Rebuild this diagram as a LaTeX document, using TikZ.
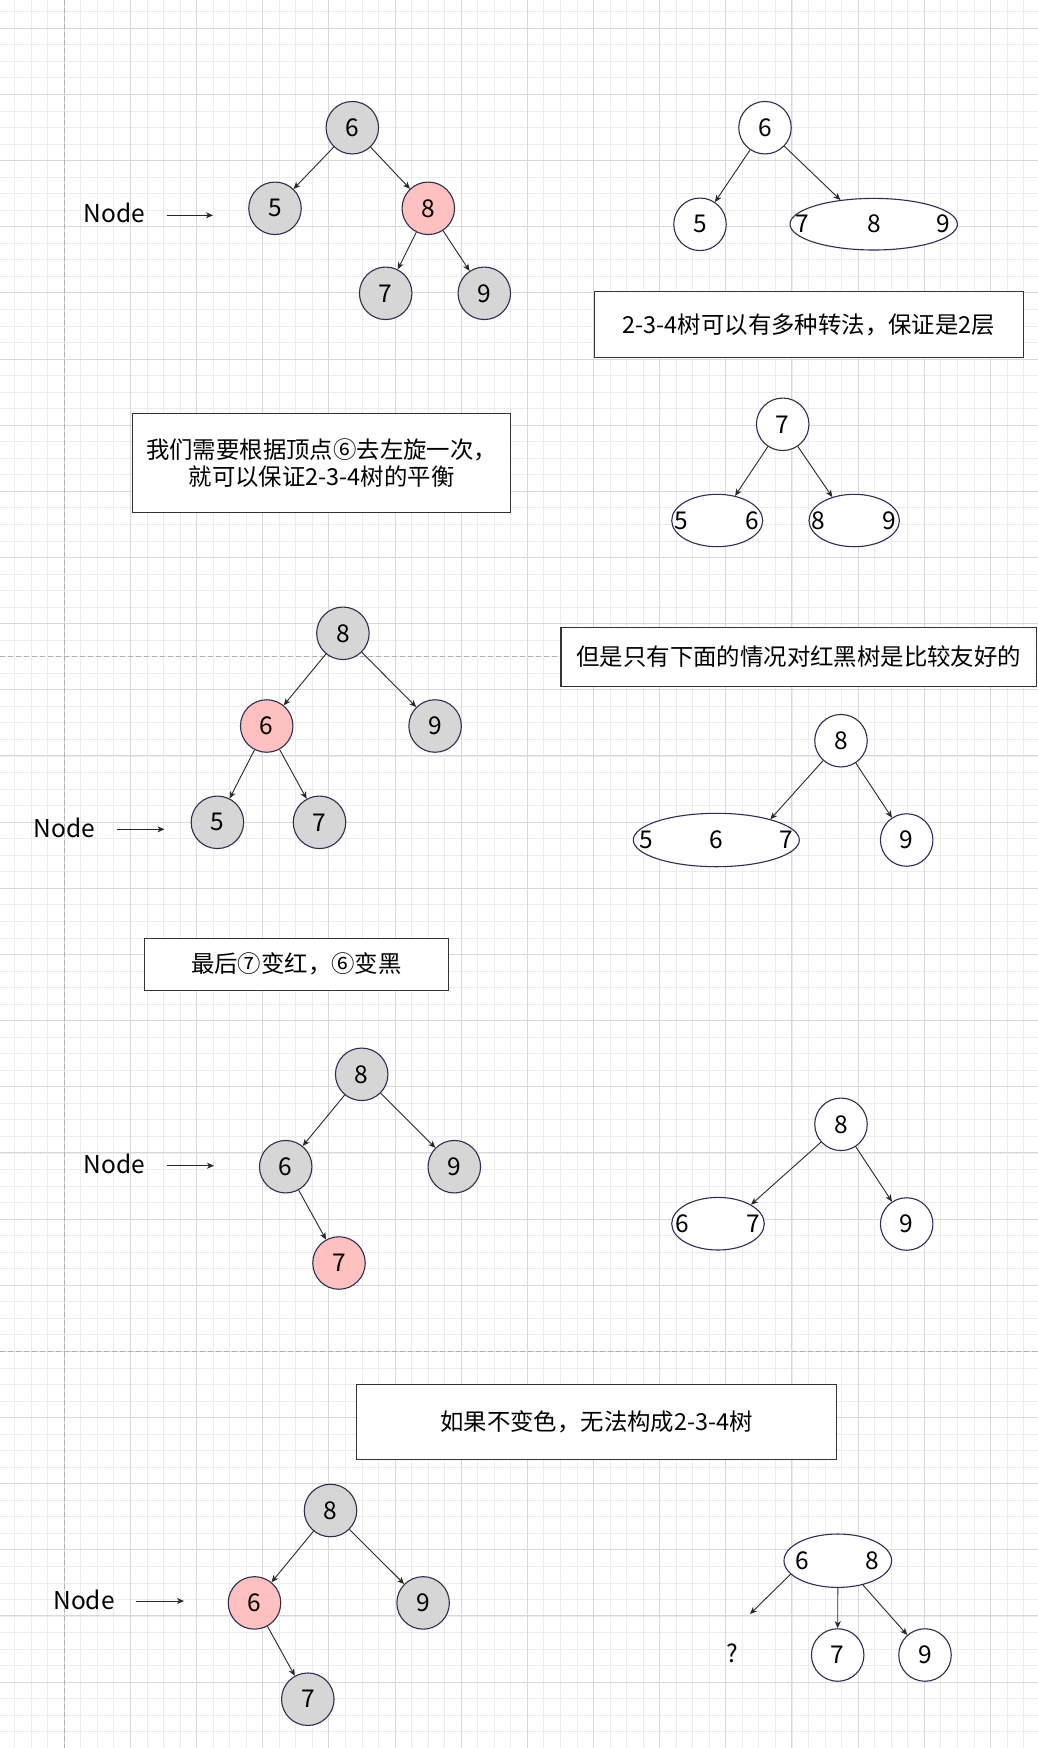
\documentclass[tikz,border=0pt]{standalone}
\usepackage{fontspec}
\setmainfont{Noto Sans CJK SC}
\usetikzlibrary{shapes.geometric,arrows.meta}

\definecolor{gridminor}{RGB}{236,236,236}
\definecolor{gridmajor}{RGB}{216,216,216}
\definecolor{pagebreak}{RGB}{176,176,176}
\definecolor{nodeline}{RGB}{44,46,82}
\definecolor{blackfill}{RGB}{214,214,214}
\definecolor{redfill}{RGB}{255,192,192}
\definecolor{edgecol}{RGB}{40,40,40}
\definecolor{boxline}{RGB}{51,51,51}

\newcommand\dgfont{\fontsize{24.5pt}{28pt}\selectfont}
\newcommand\txtfont{\fontsize{23.4pt}{26.7pt}\selectfont}

\tikzset{
  wnode/.style={circle, draw=nodeline, line width=1.1pt, fill=white,
    minimum size=52.5pt, inner sep=0pt, font=\dgfont},
  bnode/.style={wnode, fill=blackfill},
  rnode/.style={wnode, fill=redfill},
  groupnode/.style={ellipse, draw=nodeline, line width=1.1pt, fill=white,
    inner sep=0pt},
  digit/.style={inner sep=0pt, font=\dgfont},
  link/.style={draw=edgecol, line width=0.9pt,
    -{Stealth[length=7pt,width=6pt,inset=2pt]}},
  tbox/.style={draw=boxline, line width=1.1pt, fill=white, inner sep=0pt,
    font=\txtfont, align=center},
  lbl/.style={inner sep=0pt, font=\dgfont},
}

\begin{document}
\begin{tikzpicture}[x=1pt,y=-1pt]
\useasboundingbox (0,0) rectangle (1038,1748);
\fill[white] (0,0) rectangle (1038,1748);

% background grid
\begin{scope}
  \clip (0,0) rectangle (1038,1748);
  \foreach \i in {-4,...,59}
    \draw[gridminor, line width=1pt] ({64.3+16.54*\i},0) -- ({64.3+16.54*\i},1748);
  \foreach \j in {-2,...,104}
    \draw[gridminor, line width=1pt] (0,{28.3+16.54*\j}) -- (1038,{28.3+16.54*\j});
  \foreach \i in {-1,...,15}
    \draw[gridmajor, line width=1pt] ({64.3+66.15*\i},0) -- ({64.3+66.15*\i},1748);
  \foreach \j in {-1,...,26}
    \draw[gridmajor, line width=1pt] (0,{28.3+66.15*\j}) -- (1038,{28.3+66.15*\j});
  % page breaks
  \draw[pagebreak, line width=1pt, dash pattern=on 5pt off 3pt] (64.3,0) -- (64.3,1748);
  \draw[pagebreak, line width=1pt, dash pattern=on 5pt off 3pt] (0,656) -- (1038,656);
  \draw[pagebreak, line width=1pt, dash pattern=on 5pt off 3pt] (0,1351.7) -- (1038,1351.7);
\end{scope}

% ---------- first tree (left) ----------
\node[bnode] (a6) at (352.3,127.7) {6};
\node[bnode] (a5) at (275,208.3) {5};
\node[rnode] (a8) at (428.3,208.3) {8};
\node[bnode] (a7) at (385.7,293.3) {7};
\node[bnode] (a9) at (484.3,293.3) {9};
\draw[link] (a6) -- (a5);
\draw[link] (a6) -- (a8);
\draw[link] (a8) -- (a7);
\draw[link] (a8) -- (a9);
\node[lbl] (la) at (114.5,213) {Node};
\coordinate (la1) at (167,215.3);
\coordinate (la2) at (213,215.3);
\draw[link] (la1) -- (la2);

% ---------- first 2-3-4 tree (right) ----------
\node[wnode] (b6) at (765,127.7) {6};
\node[wnode] (b5) at (700,224.3) {5};
\node[groupnode, minimum width=167.4pt, minimum height=51.6pt] (b789) at (873.7,224.2) {};
\node[digit] at (802.3,224.2) {7};
\node[digit] at (874,224.2) {8};
\node[digit] at (943.3,224.2) {9};
\draw[link] (b6) -- (b5);
\draw[link] (b6) -- (b789.144);

\node[tbox, minimum width=429pt, minimum height=65.6pt] (t1) at (808.8,324.5)
  {2-3-4树可以有多种转法，保证是2层};

\node[tbox, minimum width=378.4pt, minimum height=99.4pt] (t2) at (321.5,463)
  {我们需要根据顶点⑥去左旋一次，\\就可以保证2-3-4树的平衡};

% ---------- second 2-3-4 tree (right) ----------
\node[wnode] (c7) at (782.7,424.3) {7};
\node[groupnode, minimum width=91pt, minimum height=52.4pt] (c56) at (717.2,520.5) {};
\node[groupnode, minimum width=90.4pt, minimum height=52.4pt] (c89) at (854.2,520.5) {};
\node[digit] at (681.7,520.5) {5};
\node[digit] at (752.3,520.5) {6};
\node[digit] at (818.3,520.5) {8};
\node[digit] at (889,520.5) {9};
\draw[link] (c7) -- (c56.54);
\draw[link] (c7) -- (c89.133);

% ---------- after rotation (left) ----------
\node[bnode] (d8) at (342.9,633.3) {8};
\node[rnode] (d6) at (266.7,726) {6};
\node[bnode] (d9) at (435.1,726) {9};
\node[bnode] (d5) at (217.4,822.3) {5};
\node[bnode] (d7) at (319.5,822.3) {7};
\draw[link] (d8) -- (d6);
\draw[link] (d8) -- (d9);
\draw[link] (d6) -- (d5);
\draw[link] (d6) -- (d7);
\node[lbl] (ld) at (64.6,827.7) {Node};
\coordinate (ld1) at (116.7,829.3);
\coordinate (ld2) at (164.5,829.3);
\draw[link] (ld1) -- (ld2);

\node[tbox, minimum width=475.7pt, minimum height=58.7pt] (t3) at (798.8,656.7)
  {但是只有下面的情况对红黑树是比较友好的};

% ---------- third 2-3-4 tree (right) ----------
\node[wnode] (e8) at (841,740.7) {8};
\node[groupnode, minimum width=166pt, minimum height=53.4pt] (e567) at (716.3,840) {};
\node[digit] at (646,840) {5};
\node[digit] at (716,840) {6};
\node[digit] at (786.7,840) {7};
\node[wnode] (e9) at (906.7,840) {9};
\draw[link] (e8) -- (e567.21);
\draw[link] (e8) -- (e9);

\node[tbox, minimum width=304pt, minimum height=51.7pt] (t4) at (296.3,964.2)
  {最后⑦变红，⑥变黑};

% ---------- recoloured tree (left) ----------
\node[bnode] (f8) at (361.7,1074.3) {8};
\node[bnode] (f6) at (285.7,1166.7) {6};
\node[bnode] (f9) at (454.3,1166.7) {9};
\node[rnode] (f7) at (339,1263) {7};
\draw[link] (f8) -- (f6);
\draw[link] (f8) -- (f9);
\draw[link] (f6) -- (f7);
\node[lbl] (lf) at (114.3,1164.3) {Node};
\coordinate (lf1) at (167.3,1165.7);
\coordinate (lf2) at (214,1165.7);
\draw[link] (lf1) -- (lf2);

% ---------- fourth 2-3-4 tree (right) ----------
\node[wnode] (g8) at (841,1124.3) {8};
\node[groupnode, minimum width=92.6pt, minimum height=52.6pt] (g67) at (718,1223.7) {};
\node[digit] at (682.7,1223.7) {6};
\node[digit] at (753.3,1223.7) {7};
\node[wnode] (g9) at (906.7,1224) {9};
\draw[link] (g8) -- (g67.30);
\draw[link] (g8) -- (g9);

\node[tbox, minimum width=479.5pt, minimum height=75pt] (t5) at (596.5,1421.8)
  {如果不变色，无法构成2-3-4树};

% ---------- without recolouring (left) ----------
\node[bnode] (h8) at (330.5,1510.5) {8};
\node[rnode] (h6) at (254.5,1602.9) {6};
\node[bnode] (h9) at (423.1,1602.9) {9};
\node[bnode] (h7) at (307.8,1699.2) {7};
\draw[link] (h8) -- (h6);
\draw[link] (h8) -- (h9);
\draw[link] (h6) -- (h7);
\node[lbl] (lh) at (84.1,1599.5) {Node};
\coordinate (lh1) at (136,1601);
\coordinate (lh2) at (184,1601);
\draw[link] (lh1) -- (lh2);

% ---------- broken 2-3-4 tree (right) ----------
\node[groupnode, minimum width=107.6pt, minimum height=53.4pt] (k68) at (837.8,1560.7) {};
\node[digit] at (802.7,1560.7) {6};
\node[digit] at (872.7,1560.7) {8};
\node[wnode] (k7) at (837.7,1655) {7};
\node[wnode] (k9) at (925,1655) {9};
\node[lbl] (kq) at (732.3,1653.3) {?};
\coordinate (kmiss) at (750,1614);
\draw[link] (k68.196) -- (kmiss);
\draw[link] (k68.south) -- (k7);
\draw[link] (k68.-44) -- (k9);
\end{tikzpicture}
\end{document}
